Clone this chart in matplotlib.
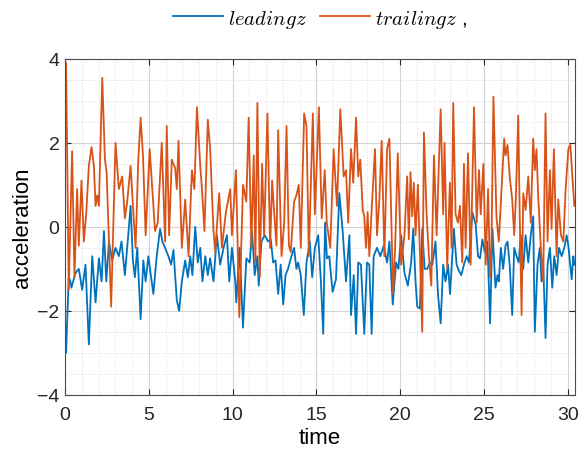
import matplotlib
matplotlib.use("Agg")
import matplotlib.pyplot as plt
from matplotlib.ticker import MultipleLocator

plt.rcParams['font.family'] = ['Liberation Sans', 'DejaVu Sans']
plt.rcParams['mathtext.fontset'] = 'cm'

# ---- data ----
trail_t = [0.00, 0.06, 0.22, 0.42, 0.56, 0.72, 0.82, 0.98, 1.12, 1.26, 1.42, 1.58, 1.72, 1.82, 1.92, 2.02,
           2.22, 2.38, 2.48, 2.75, 3.01, 3.21, 3.41, 3.57, 3.71, 3.91, 4.05, 4.21, 4.37, 4.51, 4.65, 4.81,
           5.05, 5.37, 5.53, 5.77, 5.97, 6.07, 6.21, 6.37, 6.57, 6.67, 6.77, 6.97, 7.17, 7.37, 7.57, 7.72,
           7.87, 8.07, 8.17, 8.32, 8.52, 8.66, 8.86, 8.96, 9.20, 9.36, 9.60, 9.86, 9.96, 10.20, 10.40, 10.62,
           10.82, 10.96, 11.12, 11.26, 11.36, 11.48, 11.62, 11.76, 11.88, 12.08, 12.24, 12.36, 12.48, 12.62,
           12.72, 12.92, 13.08, 13.22, 13.36, 13.47, 13.67, 13.81, 13.95, 14.07, 14.27, 14.41, 14.55, 14.79,
           14.91, 15.15, 15.32, 15.50, 15.62, 15.83, 16.03, 16.23, 16.43, 16.63, 16.77, 16.90, 17.07, 17.20,
           17.37, 17.50, 17.62, 17.77, 17.86, 17.96, 18.06, 18.16, 18.30, 18.50, 18.62, 18.76, 18.90, 19.06,
           19.22, 19.36, 19.50, 19.58, 19.70, 19.86, 20.06, 20.26, 20.42, 20.52, 20.62, 20.72, 20.82, 20.92,
           21.06, 21.22, 21.32, 21.42, 21.58, 21.72, 21.86, 22.02, 22.18, 22.32, 22.42, 22.57, 22.65, 22.81,
           22.97, 23.07, 23.17, 23.31, 23.45, 23.57, 23.71, 23.81, 23.91, 24.05, 24.21, 24.41, 24.57, 24.71,
           24.81, 24.97, 25.11, 25.25, 25.37, 25.45, 25.57, 25.75, 25.89, 26.05, 26.21, 26.29, 26.41, 26.54,
           26.69, 26.81, 26.90, 27.05, 27.14, 27.25, 27.35, 27.49, 27.65, 27.80, 27.94, 28.04, 28.14, 28.24,
           28.40, 28.54, 28.68, 28.80, 28.94, 29.04, 29.18, 29.34, 29.44, 29.60, 29.74, 29.88, 30.04, 30.16,
           30.28, 30.40]
trail_v = [3.2, 3.9, -1.5, 1.8, -1.2, 0.9, -0.45, 1.1, -0.35, 0.3, 1.45, 1.9, 1.45, 0.5, 0.75, 0.5,
           3.55, 1.6, 1.3, -1.9, 2.0, 0.9, 1.2, 0.2, 0.6, 1.45, 0.5, -0.5, 1.6, 2.6, 1.7, -0.2,
           1.85, -0.1, 0.1, 2.0, -0.35, 2.4, -0.2, 1.6, 1.4, 0.9, 2.05, -0.5, 0.65, -0.7, 1.35, 0.9,
           2.85, 1.45, 0.9, -0.1, 2.55, 1.85, -0.1, -0.6, 0.8, -0.5, 0.35, 0.9, -0.2, 1.35, -2.15, 1.0,
           0.6, 2.6, -0.5, 1.7, -0.85, 2.95, -1.2, 1.5, -0.2, 2.7, -0.5, 1.1, 0.35, -0.45,
           2.3, -0.7, 0.1, 2.4, -0.45, -0.6, 0.6, 0.75, 1.0, -0.5, 2.7, 2.4, -0.7, 2.7,
           0.3, 2.85, 0.2, 1.35, 0.1, -0.5, 1.85, 0.5, 2.8, 1.2, 1.35, 0.1, 1.85, 1.05,
           2.6, 1.2, 1.6, 0.4, 0.25, -0.5, 0.35, -0.7, 0.4, 1.85, -0.2, 0.65, 2.05, -0.7,
           1.85, 2.1, -0.2, -1.6, -0.5, 1.75, -0.9, -0.2, 1.2, -0.3, 1.3, 0.25, 1.05, -0.2,
           1.0, -1.2, -2.5, 2.25, 0.3, -0.7, -1.4, 1.7, -0.2, 1.6, 2.8, 0.3, 2.0, -1.0,
           1.05, -0.5, 2.95, 0.3, 0.1, 0.5, -0.85, 1.5, -0.5, 1.75, -0.9, 2.85, 0.1, 1.35,
           0.3, 1.5, -0.9, 0.9, -1.2, -0.5, 3.1, 0.25, -0.35, 0.9, 2.1, 1.7, 1.95, 1.2,
           0.65, -0.2, 0.6, 2.65, 0.25, -2.1, 0.8, 0.4, 1.2, 0.1, 2.1, 1.35, 1.85, 0.75,
           -0.5, -1.3, 2.7, -0.35, 1.35, -0.05, 1.85, -0.7, 0.65, -0.2, -0.35, 0.9, 1.85, 1.95,
           1.2, 0.5]

lead_t = [0.00, 0.06, 0.22, 0.32, 0.38, 0.62, 0.82, 1.02, 1.22, 1.42, 1.62, 1.82, 2.02, 2.18, 2.32, 2.46,
          2.62, 2.81, 3.01, 3.21, 3.37, 3.57, 3.77, 3.91, 4.05, 4.17, 4.31, 4.51, 4.67, 4.81, 4.97,
          5.27, 5.47, 5.67, 5.81, 5.97, 6.17, 6.33, 6.47, 6.67, 6.81, 6.97, 7.17, 7.33, 7.47, 7.60,
          7.77, 7.92, 8.07, 8.20, 8.37, 8.52, 8.66, 8.86, 9.06, 9.26, 9.46, 9.66, 9.80, 9.96, 10.16,
          10.22, 10.42, 10.62, 10.82, 11.02, 11.16, 11.32, 11.48, 11.56, 11.72, 11.92, 12.12, 12.28, 12.42,
          12.56, 12.72, 12.87, 13.02, 13.16, 13.31, 13.51, 13.67, 13.81, 13.91, 14.07, 14.25, 14.41, 14.61,
          14.75, 14.91, 15.11, 15.27, 15.41, 15.52, 15.63, 15.77, 15.97, 16.17, 16.37, 16.57, 16.77, 16.97,
          17.07, 17.23, 17.37, 17.50, 17.66, 17.86, 18.02, 18.16, 18.30, 18.42, 18.62, 18.82, 19.02, 19.22,
          19.36, 19.56, 19.76, 19.90, 20.06, 20.26, 20.46, 20.66, 20.78, 20.92, 21.02, 21.18, 21.32, 21.46,
          21.62, 21.78, 21.92, 22.11, 22.26, 22.42, 22.57, 22.71, 22.86, 22.98, 23.11, 23.21, 23.37, 23.51,
          23.65, 23.81, 23.97, 24.11, 24.31, 24.51, 24.65, 24.77, 24.91, 25.05, 25.21, 25.37, 25.51, 25.69,
          25.81, 25.89, 26.01, 26.15, 26.29, 26.41, 26.54, 26.69, 26.81, 26.95, 27.08, 27.20, 27.35, 27.49,
          27.65, 27.80, 27.94, 28.04, 28.20, 28.34, 28.44, 28.54, 28.68, 28.80, 28.94, 29.08, 29.20, 29.34,
          29.48, 29.64, 29.80, 29.94, 30.04, 30.14, 30.24, 30.34, 30.40]
lead_v = [-2.3, -3.0, -1.2, -1.3, -1.45, -1.1, -1.0, -1.5, -0.9, -2.8, -0.7, -1.8, -0.75, -1.3, -0.1, -1.3,
          -0.35, -0.8, -0.5, -0.7, -0.35, -1.15, -0.2, 0.5, -0.8, -1.2, -0.5, -2.2, -0.8, -1.3, -0.7,
          -1.6, -0.7, -0.05, -0.35, -0.5, -0.7, -0.9, -0.55, -1.75, -2.0, -1.3, -0.8, -1.2, -0.7, -1.15,
          0.0, -0.85, -0.5, -1.3, -0.7, -1.15, -0.75, -1.3, -0.2, -0.9, -0.5, -0.2, -1.3, -0.5, -1.3,
          -1.8, -0.5, -2.4, -0.75, -0.85, -0.1, -1.15, -0.7, -1.4, -0.35, -0.2, -0.35, -0.3, -0.85,
          -0.8, -1.6, -0.9, -1.85, -1.15, -1.0, -0.7, -0.5, -1.0, -0.85, -1.15, -2.1, -0.85, -0.35,
          -1.2, -0.5, -0.2, -1.3, -2.55, 0.1, -0.75, -0.7, -1.55, -1.25, 0.8, -0.1, -1.3, -0.2,
          -2.1, -1.15, -2.55, -0.85, -0.9, -2.55, -0.85, -0.9, -2.55, -0.7, -0.5, -0.7, -0.45, -0.85,
          -0.35, -1.85, -0.85, -1.0, -0.2, -1.1, -1.4, -0.85, -0.05, -1.3, -1.9, -1.95, -0.05, -1.0,
          -1.0, -0.85, -0.9, -0.35, -1.6, -2.3, -0.9, -1.3, -0.9, -1.6, -0.7, -0.05, -0.9, -1.05,
          -1.15, -0.9, -0.7, -0.85, 0.35, 0.05, -0.7, -0.75, -0.3, -0.6, -0.35, -2.3, -0.05, -1.45,
          -1.15, -1.3, -0.5, -1.0, -0.45, -0.35, -0.9, -2.1, -0.5, -0.7, -0.85, -0.2, -1.0, -0.2,
          -0.85, -0.2, 0.25, -2.5, -0.9, -0.5, -1.3, -0.85, -2.65, -0.9, -0.5, -1.45, -0.7, -1.15,
          -0.5, -0.7, -0.5, -0.2, -0.45, -0.85, -1.25, -0.7, -0.9]

series_labels = ['$leadingz$', '$trailingz$ ,']
x_ticks = [0, 5, 10, 15, 20, 25, 30]
y_ticks = [-4, -2, 0, 2, 4]

blue = '#0072BD'
orange = '#D95319'

fig = plt.figure(figsize=(5.81, 4.64), dpi=100)
ax = fig.add_axes([0.112, 0.147, 0.878, 0.724])

ax.plot(lead_t, lead_v, color=blue, lw=1.3, label=series_labels[0])
ax.plot(trail_t, trail_v, color=orange, lw=1.3, label=series_labels[1])

ax.set_xlim(0, 30.45)
ax.set_ylim(-4, 4)
ax.set_xticks(x_ticks)
ax.set_yticks(y_ticks)
ax.xaxis.set_minor_locator(MultipleLocator(1))
ax.yaxis.set_minor_locator(MultipleLocator(0.5))
ax.grid(True, which='major', color='#d4d4d4', lw=0.8)
ax.grid(True, which='minor', color='#dcdcdc', lw=0.7, ls=':')
ax.set_axisbelow(True)
ax.tick_params(which='both', direction='in', top=True, right=True, labelsize=14, colors='#262626', pad=4)
ax.tick_params(axis='x', which='major', pad=8)
ax.tick_params(which='minor', length=0)
ax.tick_params(which='major', length=4)
for s in ax.spines.values():
    s.set_color('#4d4d4d')
    s.set_linewidth(0.8)

ax.set_xlabel('time', fontsize=16, labelpad=3)
ax.set_ylabel('acceleration', fontsize=16, labelpad=3)

leg = ax.legend(loc='center', bbox_to_anchor=(0.5, 1.12), ncol=2, frameon=False,
                fontsize=15, handlelength=2.4, columnspacing=0.6, handletextpad=0.25)

fig.savefig('out.png', dpi=100)
